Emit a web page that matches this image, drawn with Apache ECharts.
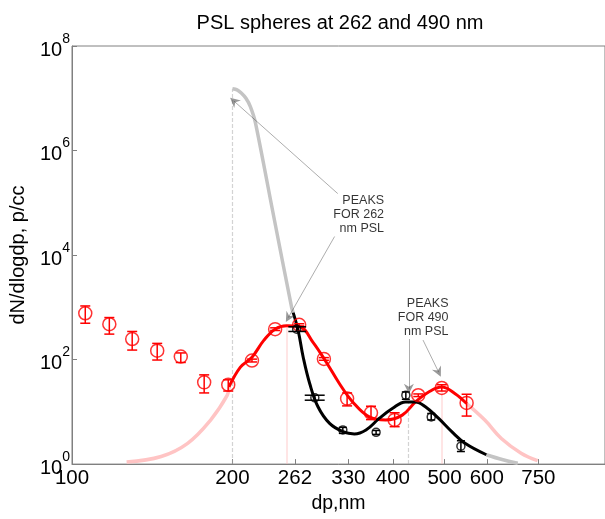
<!DOCTYPE html>
<html>
<head>
<meta charset="utf-8">
<script src="https://cdn.jsdelivr.net/npm/echarts@6/dist/echarts.min.js"></script>
<style>html,body{margin:0;padding:0;background:#fff}#c{width:605px;height:519px}</style>
</head>
<body>
<div id="c"></div>
<script>
// ---- data ----
const xTicks = [100, 200, 262, 330, 400, 500, 600, 750];
const yTicks = [1, 1e2, 1e4, 1e6, 1e8];

// red measured points (diameter dp, nm) with error range
const redX  = [105.9, 117.5, 129.7, 144.5, 160, 177, 196.4, 217.6, 240.5, 266.8, 296.9, 328.2, 363.9, 403, 446.3, 494, 550];
const redY  = [768, 475, 247, 148, 114, 36.7, 33, 96, 382, 462, 103, 17.9, 9.6, 7.0, 20.8, 28.6, 14.8];
const redLo = [496, 307, 152, 98, 88, 23, 25, 90, 360, 440, 97, 13, 7.1, 5.2, 19.6, 25, 8.3];
const redHi = [1062, 637, 345, 204, 134, 51, 41, 102, 405, 485, 109, 23, 12.8, 9.6, 22, 33, 21.7];

// black measured points
const blackX   = [263.9, 285.5, 322.2, 372, 423, 472, 536.6];
const blackY   = [382, 18.5, 4.5, 4.05, 20.8, 8.0, 2.2];
const blackLo  = [345, 16.7, 3.87, 3.7, 17.4, 7.0, 1.74];
const blackHi  = [424, 20.8, 5.04, 4.4, 24, 9.3, 2.8];
const blackXLo = [254.6, 273.3, null, null, null, null, null];
const blackXHi = [275, 297.9, null, null, null, null, null];

// fitted curves [dp, dN/dlogdp]
const pinkLeftCurve = [[126.6,1.1],[147,1.4],[164.8,2.5],[182,6.97],[195.6,20.8],[197,29.9]];
const redCurve = [[197,29.9],[207,71.6],[217.6,111],[228.8,230],[240.4,382],[252.7,443],[267.6,424],[283.3,213],[300,89],[317.6,34.5],[336.2,15.5],[361.2,8.0],[387.9,7.0],[416.5,8.66],[441,15.5],[466.9,24],[494,29.9],[523.4,22.3],[550,14.4]];
const pinkRightCurve = [[550,14.4],[595,6.97],[639,3.1],[696,1.62],[747.4,1.16]];
const grayCurve = [[200,1.52e7],[204,1.45e7],[208,1.25e7],[212,1.0e7],[216,7.0e6],[220.8,3.45e6],[238.7,5.9e4],[258.3,985],[260,792]];
const blackCurve = [[260,792],[265.7,356],[271.5,111],[279.3,34.5],[289.4,12.5],[304.3,6.0],[322.2,4.18],[338.7,3.78],[356.1,4.5],[376.9,7.47],[399,11.6],[422.6,15.5],[441,15.5],[460.3,12.5],[487.4,7.47],[515.8,4.18],[546.3,2.5],[599,1.51]];
const grayTailCurve = [[599,1.51],[643.6,1.21],[686,1.04]];

// peak markers [dp, peak height]
const grayPeaks = [[200,1.52e7],[428,15.5]];
const pinkPeaks = [[252.7,443],[494,29.9]];

// annotation arrows [[from],[to]]
const arrows = [
  [[315.2,1.5e5],[201.2,8.87e6]],
  [[310.9,2.26e4],[254.6,637]],
  [[428.6,247],[428.6,27.7]],
  [[455.6,236],[487.4,57.5]]
];
const notes = [
  {pos:[385,6.0e4], text:'PEAKS\nFOR 262\nnm PSL'},
  {pos:[508.6,637], text:'PEAKS\nFOR 490\nnm PSL'}
];

// ---- chart ----
const FONT = 'Liberation Sans';
const chart = echarts.init(document.getElementById('c'), null, {renderer:'canvas'});

function errRender(lo, hi, xlo, xhi, color, hw) {
  return function(params, api) {
    const i = params.dataIndex;
    const x = api.value(0);
    const pLo = api.coord([x, lo[i]]);
    const pHi = api.coord([x, hi[i]]);
    let l = pLo[0] - hw, r = pLo[0] + hw;
    if (xlo && xlo[i] != null) {
      l = api.coord([xlo[i], lo[i]])[0];
      r = api.coord([xhi[i], lo[i]])[0];
    }
    const st = {stroke: color, lineWidth: 1.5};
    return {type:'group', children:[
      {type:'line', shape:{x1:pLo[0], y1:pLo[1], x2:pHi[0], y2:pHi[1]}, style:st},
      {type:'line', shape:{x1:l, y1:pLo[1], x2:r, y2:pLo[1]}, style:st},
      {type:'line', shape:{x1:l, y1:pHi[1], x2:r, y2:pHi[1]}, style:st}
    ]};
  };
}

const arrowPath = 'path://M5,0 L10,13 L5,9 L0,13 Z';

const option = {
  animation: false,
  backgroundColor: '#fff',
  title: {
    text: 'PSL spheres at 262 and 490 nm',
    left: 335, top: 8, textAlign: 'center',
    textStyle: {fontFamily: FONT, fontSize: 20, fontWeight: 'normal', color: '#000'}
  },
  grid: {left: 70, top: 46, width: 538, height: 421.7, show: true, borderColor: '#808080', borderWidth: 1},
  xAxis: {
    type: 'log', logBase: 10, min: 100, max: 1000,
    name: 'dp,nm', nameLocation: 'middle', nameGap: 29,
    nameTextStyle: {fontFamily: FONT, fontSize: 19.5, color: '#000'},
    axisLine: {show: true, lineStyle: {color: '#808080'}},
    axisTick: {show: true, inside: true, length: 5, customValues: xTicks, lineStyle: {color: '#808080'}},
    axisLabel: {customValues: xTicks, fontFamily: FONT, fontSize: 20.5, color: '#000', margin: 4, formatter: v => String(Math.round(v))},
    splitLine: {show: false}, minorTick: {show: false}
  },
  yAxis: {
    type: 'log', logBase: 10, min: 1, max: 1e8,
    name: 'dN/dlogdp, p/cc', nameLocation: 'middle', nameGap: 44, nameRotate: 90,
    nameTextStyle: {fontFamily: FONT, fontSize: 20, color: '#000'},
    axisLine: {show: true, lineStyle: {color: '#808080'}},
    axisTick: {show: true, inside: true, length: 5, customValues: yTicks, lineStyle: {color: '#808080'}},
    axisLabel: {
      customValues: yTicks, margin: 2,
      formatter: v => '{b|10}{s|' + Math.round(Math.log10(v)) + '}',
      rich: {
        b: {fontFamily: FONT, fontSize: 20, color: '#000', verticalAlign: 'bottom', lineHeight: 28},
        s: {fontFamily: FONT, fontSize: 14, color: '#000', verticalAlign: 'top', lineHeight: 14}
      }
    },
    splitLine: {show: false}
  },
  series: [
    {type:'line', data: pinkLeftCurve, smooth: 0.4, symbol:'none', lineStyle:{color:'#ffc4c4', width:3.5}, z:1},
    {type:'line', data: pinkRightCurve, smooth: 0.4, symbol:'none', lineStyle:{color:'#ffc4c4', width:3.5}, z:1},
    {type:'line', data: grayCurve, smooth: 0.25, symbol:'none', lineStyle:{color:'#c4c4c4', width:3.5}, z:1},
    {type:'line', data: grayTailCurve, smooth: 0.4, symbol:'none', lineStyle:{color:'#c4c4c4', width:3.5}, z:1},
    {type:'lines', coordinateSystem:'cartesian2d', z:1,
      data: grayPeaks.map(p => ({coords:[[p[0],1],[p[0],p[1]]]})),
      lineStyle:{color:'#a8a8a8', width:1.2, type:[4,2]}},
    {type:'lines', coordinateSystem:'cartesian2d', z:1,
      data: pinkPeaks.map(p => ({coords:[[p[0],1],[p[0],p[1]]]})),
      lineStyle:{color:'#ffbcbc', width:1.5}},
    {type:'line', data: redCurve, smooth: 0.4, symbol:'none', lineStyle:{color:'#ff0000', width:3}, z:2},
    {type:'line', data: blackCurve, smooth: 0.4, symbol:'none', lineStyle:{color:'#000000', width:3}, z:3},
    {type:'custom', z:4, data: redX.map((x,i)=>[x, redLo[i], redHi[i]]), encode:{x:0, y:[1,2]},
      renderItem: errRender(redLo, redHi, null, null, '#ff0000', 5)},
    {type:'scatter', z:4, data: redX.map((x,i)=>[x, redY[i]]), symbol:'circle', symbolSize: 13,
      itemStyle:{color:'rgba(0,0,0,0)', borderColor:'#ff0000', borderWidth:1.5}},
    {type:'custom', z:5, data: blackX.map((x,i)=>[x, blackLo[i], blackHi[i]]), encode:{x:0, y:[1,2]},
      renderItem: errRender(blackLo, blackHi, blackXLo, blackXHi, '#000000', 4)},
    {type:'scatter', z:5, data: blackX.map((x,i)=>[x, blackY[i]]), symbol:'circle', symbolSize: 8,
      itemStyle:{color:'rgba(0,0,0,0)', borderColor:'#000000', borderWidth:1.5}},
    {type:'lines', coordinateSystem:'cartesian2d', z:6,
      data: arrows.map(a => ({coords: a})),
      symbol: ['none', arrowPath], symbolSize: [7, 10],
      lineStyle:{color:'#333', width:0.8}},
    {type:'scatter', z:7, data: notes.map(n => ({value: n.pos, text: n.text})), symbolSize: 0,
      label:{show:true, position:'left', distance:0, formatter: p => p.data.text, align:'right', verticalAlign:'middle',
        fontFamily: FONT, fontSize: 12.5, lineHeight: 14, color:'#000'}}
  ]
};
chart.setOption(option);
</script>
</body>
</html>
